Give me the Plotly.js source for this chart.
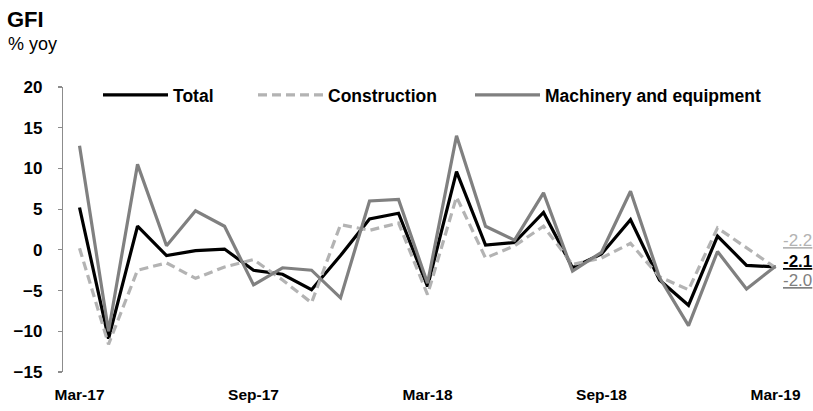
<!DOCTYPE html>
<html>
<head>
<meta charset="utf-8">
<script src="https://cdn.plot.ly/plotly-3.0.1.min.js"></script>
<style>html,body{margin:0;padding:0;background:#fff}#chart{width:813px;height:411px}</style>
</head>
<body>
<div id="chart"></div>
<script>
// Monthly, Mar-17 .. Mar-19
const months = ['Mar-17','Apr-17','May-17','Jun-17','Jul-17','Aug-17','Sep-17','Oct-17','Nov-17','Dec-17','Jan-18','Feb-18','Mar-18','Apr-18','May-18','Jun-18','Jul-18','Aug-18','Sep-18','Oct-18','Nov-18','Dec-18','Jan-19','Feb-19','Mar-19'];
const total        = [5.2, -10.9, 2.9, -0.7, -0.1, 0.1, -2.5, -3.0, -4.9, -0.7, 3.8, 4.5, -4.5, 9.6, 0.6, 0.9, 4.6, -2.2, -0.5, 3.7, -3.7, -6.8, 1.7, -1.9, -2.1];
const construction = [0.2, -11.6, -2.5, -1.6, -3.5, -2.1, -1.2, -3.7, -6.5, 3.1, 2.4, 3.3, -5.5, 6.5, -1.0, 0.5, 2.9, -1.8, -1.0, 0.8, -3.3, -4.9, 2.7, 0.2, -2.2];
const machinery    = [12.8, -10.0, 10.5, 0.5, 4.8, 2.9, -4.3, -2.2, -2.5, -5.9, 6.0, 6.2, -4.1, 14.0, 2.9, 1.2, 7.0, -2.6, -0.3, 7.2, -3.4, -9.3, -0.2, -4.8, -2.0];
const tickLabels = ['Mar-17','Sep-17','Mar-18','Sep-18','Mar-19'];
const endLabels = ['-2.1', '-2.2', '-2.0'];

const FONT = 'Liberation Sans Narrow, Arial Narrow, Liberation Sans, Arial, sans-serif';
const idx = months.map((m, i) => i);
const labelIdx = tickLabels.map(t => months.indexOf(t));
const tickOffset = -0.57;
const minorTicks = labelIdx.map(i => i + tickOffset);
const last = months.length - 1;

const traces = [
  {x: idx, y: total, name: 'Total', type: 'scatter', mode: 'lines', legend: 'legend',
   line: {color: '#000000', width: 3.2}},
  {x: idx, y: construction, name: 'Construction', type: 'scatter', mode: 'lines', legend: 'legend2',
   line: {color: '#b3b3b3', width: 3.2, dash: '9px,5px'}},
  {x: idx, y: machinery, name: 'Machinery and equipment', type: 'scatter', mode: 'lines', legend: 'legend3',
   line: {color: '#808080', width: 3.2}}
];

function legendAt(px) {
  return {orientation: 'h', x: px, y: 1 - 8/285, xanchor: 'left', yanchor: 'middle',
          font: {family: FONT, size: 17.5, color: '#000000', weight: 'bold'},
          itemwidth: 65, bgcolor: 'rgba(0,0,0,0)'};
}

const layout = {
  width: 813, height: 411,
  margin: {l: 63, r: 34, t: 87, b: 39},
  paper_bgcolor: '#ffffff', plot_bgcolor: '#ffffff',
  font: {family: FONT, color: '#000000'},
  showlegend: true,
  legend: legendAt(35/716),
  legend2: legendAt(190/716),
  legend3: legendAt(407/716),
  title: {text: '<b>GFI</b>', x: 7/813, xanchor: 'left', xref: 'container',
          y: 1 - 19/411, yanchor: 'middle', yref: 'container',
          font: {family: FONT, size: 22, color: '#000000'}},
  xaxis: {range: [tickOffset, last + 0.12], tickmode: 'array', tickvals: labelIdx, ticktext: tickLabels,
          showgrid: false, zeroline: false, showline: false, ticks: '',
          tickfont: {family: FONT, size: 15.5, color: '#000000', weight: 'bold'},
          ticklabelstandoff: 11, fixedrange: true},
  xaxis2: {overlaying: 'x', anchor: 'free', position: 15/35, range: [tickOffset, last + 0.12],
           tickmode: 'array', tickvals: minorTicks, showticklabels: false,
           ticks: 'inside', ticklen: 5, tickwidth: 1.2, tickcolor: '#8c8c8c',
           showline: true, linecolor: '#8c8c8c', linewidth: 1.5, layer: 'below traces',
           showgrid: false, zeroline: false, fixedrange: true},
  yaxis: {range: [-15, 20], tickmode: 'array', tickvals: [-15,-10,-5,0,5,10,15,20],
          showgrid: false, zeroline: false, showline: true, linecolor: '#8c8c8c', linewidth: 1.2,
          ticks: 'outside', ticklen: 4, tickcolor: '#8c8c8c', tickwidth: 1.2,
          tickfont: {family: FONT, size: 17, color: '#000000', weight: 'bold'},
          ticklabelstandoff: 12, fixedrange: true},
  annotations: [
    {text: '% yoy', xref: 'paper', yref: 'paper', x: -57/716, y: (372-44)/285, xanchor: 'left', yanchor: 'middle',
     showarrow: false, font: {family: FONT, size: 18, color: '#000000'}},
    {text: endLabels[0], x: last, y: total[last], xref: 'x', yref: 'y', xanchor: 'left', yanchor: 'middle',
     xshift: 5, yshift: 5, showarrow: false,
     font: {family: FONT, size: 17, color: '#000000', weight: 'bold', lineposition: 'under'}},
    {text: endLabels[1], x: last, y: construction[last], xref: 'x', yref: 'y', xanchor: 'left', yanchor: 'middle',
     xshift: 5, yshift: 27, showarrow: false,
     font: {family: FONT, size: 17, color: '#b3b3b3', lineposition: 'under'}},
    {text: endLabels[2], x: last, y: machinery[last], xref: 'x', yref: 'y', xanchor: 'left', yanchor: 'middle',
     xshift: 5, yshift: -14, showarrow: false,
     font: {family: FONT, size: 17, color: '#808080', lineposition: 'under'}}
  ]
};

Plotly.newPlot('chart', traces, layout, {displayModeBar: false, staticPlot: true});
</script>
</body>
</html>
